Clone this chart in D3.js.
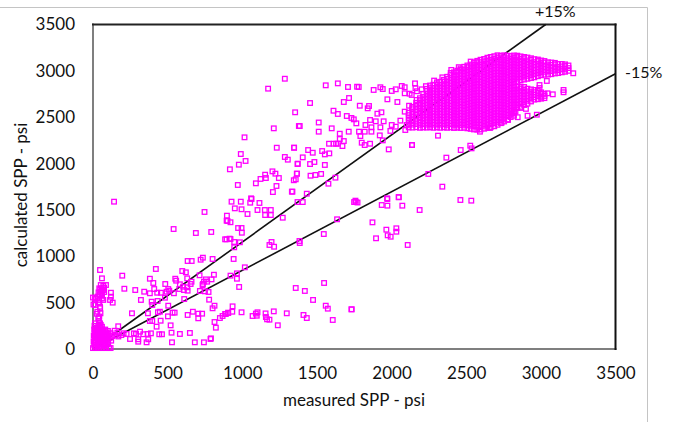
<!DOCTYPE html>
<html>
<head>
<meta charset="utf-8">
<script src="https://cdn.jsdelivr.net/npm/d3@7"></script>
<style>
	html, body { margin: 0; padding: 0; background: #fff; }
	svg { display: block; }
	text { font-family: Lato, sans-serif; fill: #111; }
</style>
</head>
<body>
<svg id="chart" width="684" height="422"></svg>
<script>
const xTickValues = [0, 500, 1000, 1500, 2000, 2500, 3000, 3500];
const yTickValues = [0, 500, 1000, 1500, 2000, 2500, 3000, 3500];
const upperLine = [[0, 0], [3032, 3500]];
const lowerLine = [[0, 0], [3500, 2969]];

// blob and column next to the origin
const originPoints = [
	[0, 10], [20, 10], [40, 10], [62, 10], [85, 10], [108, 10], [118, 10], [8, 45], [30, 40], [52, 48], [75, 42], [98, 50],
	[4, 80], [18, 72], [38, 85], [58, 78], [80, 82], [102, 75], [122, 90], [10, 110], [26, 118], [46, 105], [66, 115], [88, 108], [112, 120],
	[5, 145], [20, 150], [36, 140], [55, 152], [74, 144], [95, 150], [128, 140], [12, 178], [30, 182], [48, 175], [68, 185], [90, 178], [118, 170],
	[8, 210], [24, 215], [42, 205], [60, 212], [82, 210], [145, 197], [150, 150], [163, 176], [170, 135], [190, 150], [205, 170],
	[14, 28], [34, 62], [46, 32], [66, 64], [88, 30], [14, 95], [30, 100], [52, 95], [72, 100], [92, 88], [16, 130], [40, 125], [60, 132], [82, 128], [104, 135],
	[14, 162], [40, 160], [60, 168], [82, 160], [104, 165], [18, 195], [36, 198], [54, 192], [72, 200], [100, 195], [30, 235], [60, 240], [10, 250],
	[47, 223], [52, 260], [13, 277], [47, 277], [35, 331], [42, 350], [50, 385], [29, 402], [47, 456], [13, 475], [42, 500],
	[13, 550], [42, 529], [69, 529], [30, 565], [58, 575], [37, 610], [54, 620], [75, 615], [42, 654], [67, 636], [52, 690], [69, 680], [87, 690],
	[120, 607], [120, 564], [114, 529], [132, 500], [47, 852], [60, 762], [196, 791], [210, 650], [283, 636], [343, 618], [321, 529], [141, 1589], [18, 540], [0, 555], [3, 480],
	[46, 590], [60, 600], [48, 640], [58, 655], [74, 660], [40, 300], [48, 440], [38, 500], [60, 545], [24, 380]
];

const lowPoints = [
	[169, 245], [225, 162], [274, 169], [288, 162], [315, 187], [337, 159], [366, 162], [388, 169], [444, 159], [462, 159], [303, 105], [370, 105], [303, 79], [359, 72], [529, 72], [682, 72], [743, 72], [787, 108], [248, 108],
	[526, 176], [582, 162], [649, 173], [520, 255], [426, 241], [823, 230], [790, 115], [261, 385], [368, 385], [435, 396], [448, 402], [502, 352], [533, 392], [547, 392], [634, 367], [669, 402], [705, 381], [731, 381], [705, 331],
	[381, 302], [397, 302], [453, 305], [814, 291], [850, 334], [868, 356], [885, 378], [905, 392], [778, 532], [801, 439], [814, 467], [421, 863], [634, 949], [661, 949], [721, 963], [736, 985], [801, 971], [598, 841], [622, 827],
	[714, 795], [810, 801], [381, 758], [404, 712], [484, 701], [551, 758], [557, 737], [582, 698], [631, 762], [660, 726], [654, 701], [631, 665], [604, 672], [609, 636], [578, 647], [504, 647], [493, 618], [410, 647], [381, 601],
	[430, 607], [455, 607], [511, 629], [542, 601], [634, 629], [734, 690], [756, 751], [765, 726], [743, 726], [794, 751], [736, 701], [716, 626], [750, 622], [774, 615], [611, 539], [482, 553], [433, 518], [393, 510], [397, 475], [504, 467],
	[540, 1294], [689, 1251], [792, 1262], [747, 1478], [897, 1438], [895, 1384], [885, 1183], [915, 1190]
];

const midPoints = [
	[928, 1589], [990, 1589], [1062, 1618], [1053, 1578], [1115, 1575], [1370, 1585], [1405, 1585], [950, 1517], [995, 1507], [1102, 1499], [1151, 1499], [1191, 1499], [1035, 1456], [1153, 1445], [1191, 1445], [1271, 1416], [1749, 1585], [1635, 1399],
	[901, 1381], [921, 1367], [972, 1305], [995, 1305], [997, 1254], [1546, 1240], [895, 1183], [921, 1186], [946, 1154], [984, 1151], [946, 1097], [1196, 1154], [1182, 1122], [1213, 1103], [1383, 1165], [1385, 1143], [942, 971], [1017, 881],
	[964, 816], [921, 791], [964, 758], [979, 669], [1548, 712], [1358, 658], [1419, 626], [1474, 529], [1559, 467], [1573, 435], [1731, 428], [1733, 428], [1606, 313], [935, 460], [906, 388], [933, 402], [995, 396], [1069, 356], [1097, 359], [1102, 396], [1091, 382],
	[1156, 384], [1158, 345], [1166, 320], [1182, 316], [1211, 406], [1298, 385], [1238, 256], [1410, 367], [1432, 334], [890, 378], [1872, 1366], [1965, 1287], [2032, 1302], [2032, 1265], [1896, 1194], [1974, 1226], [1994, 1211], [2108, 1122],
	[1760, 1585], [1772, 1580], [1972, 1618], [2048, 1636], [1934, 1553], [1972, 1546], [2072, 1546], [2461, 1607], [2534, 1600], [2188, 1499], [2340, 1751], [2246, 1888], [2367, 2064], [2137, 2200], [1981, 2153], [2463, 2146], [2527, 2193], [2536, 2164], [2311, 2301]
];

const upperPoints = [
	[1285, 2915], [1173, 2808], [1354, 2553], [1379, 2405], [1211, 2380], [1015, 2283], [1231, 2171], [1347, 2171], [990, 2103], [1285, 2071], [1305, 2042], [1022, 2028], [977, 1988], [1370, 1995], [917, 1938], [1202, 1916], [1153, 1880], [1222, 1891],
	[1245, 1844], [1122, 1834], [1158, 1844], [1091, 1787], [1365, 1891], [1358, 1830], [1345, 1820], [1229, 1758], [970, 1769], [1205, 1693], [1332, 1697], [1059, 1625], [1559, 2844], [1640, 2865], [1708, 2826], [1769, 2829], [1780, 2826], [1880, 2794],
	[1925, 2823], [1941, 2804], [2001, 2783], [2028, 2801], [2068, 2837], [2088, 2823], [2088, 2758], [2157, 2865], [2160, 2812], [2121, 2754], [2202, 2801], [1715, 2707], [1680, 2664], [1454, 2653], [1972, 2693], [2039, 2664], [1787, 2624], [1849, 2621],
	[1840, 2596], [1611, 2570], [1640, 2535], [1932, 2553], [1905, 2538], [2088, 2560], [2117, 2624], [2139, 2607], [2135, 2740], [2168, 2686], [2190, 2596], [2257, 2613], [1700, 2513], [1731, 2492], [1747, 2477], [1764, 2434], [1512, 2443], [1385, 2405],
	[1599, 2380], [1512, 2344], [1713, 2344], [1856, 2470], [1894, 2456], [1947, 2456], [1825, 2416], [1865, 2391], [1925, 2391], [1820, 2344], [1782, 2344], [1865, 2344], [1653, 2322], [1791, 2297], [1921, 2304], [1992, 2352], [2028, 2398], [2059, 2463], [2092, 2362],
	[2001, 2416], [2101, 2416], [1653, 2265], [1680, 2243], [1581, 2214], [1612, 2214], [1628, 2214], [1640, 2214], [1671, 2189], [1800, 2225], [1820, 2200], [1856, 2214], [1941, 2250], [2137, 2200], [1347, 2171], [1441, 2146], [1472, 2117], [1535, 2135], [1553, 2099],
	[1583, 2110], [1405, 2067], [1372, 1999], [1454, 1995], [1483, 2017], [1553, 1985], [1367, 1891], [1457, 1869], [1490, 1877], [1528, 1888], [1624, 1848], [1577, 1783], [1336, 1697], [1432, 1675], [1758, 1600], [1970, 1625], [2048, 1639]
];

const clusterEdgePoints = [
	[2991, 2847], [2991, 2815], [3040, 2891], [3045, 2758], [3080, 2747], [3152, 2794], [3152, 2769], [2911, 2516], [2973, 2527], [2592, 2344], [2659, 2384], [2737, 2441], [3217, 2974],
	[2830, 2560], [2865, 2600], [2900, 2590], [2845, 2500], [2780, 2470], [2810, 2540], [2170, 2780], [2230, 2835], [2285, 2895], [2340, 2930], [2400, 3010], [2450, 3040], [2530, 3100]
];

// dense cloud, one list of calculated values per measured column
const denseMeasured = [
	2115, 2140, 2165, 2190, 2212, 2236, 2258, 2280, 2304, 2326,
	2350, 2372, 2396, 2418, 2440, 2462, 2486, 2508, 2530, 2552,
	2574, 2596, 2620, 2642, 2664, 2688, 2710, 2732, 2754, 2776,
	2798, 2820, 2842, 2864, 2888, 2910, 2934, 2956, 2980, 3002,
	3024, 3048, 3070, 3094, 3116, 3140, 3162, 3185
];
const denseCalculated = [
	[2390, 2424, 2458, 2490, 2522, 2548],
	[2388, 2420, 2455, 2486, 2520, 2552, 2586, 2612],
	[2392, 2426, 2460, 2494, 2526, 2558, 2590, 2624, 2656],
	[2386, 2418, 2452, 2488, 2520, 2554, 2586, 2618, 2650, 2684, 2705],
	[2390, 2425, 2458, 2490, 2524, 2556, 2590, 2622, 2655, 2688, 2720, 2752],
	[2388, 2420, 2454, 2486, 2520, 2552, 2584, 2618, 2650, 2684, 2716, 2750, 2782, 2806],
	[2392, 2424, 2458, 2492, 2524, 2558, 2590, 2624, 2656, 2690, 2722, 2756, 2788, 2820, 2842],
	[2386, 2420, 2452, 2486, 2518, 2552, 2586, 2618, 2652, 2684, 2718, 2750, 2784, 2816, 2850],
	[2390, 2422, 2456, 2490, 2522, 2556, 2588, 2622, 2654, 2688, 2720, 2754, 2786, 2820, 2852, 2876],
	[2386, 2420, 2454, 2486, 2520, 2552, 2586, 2618, 2652, 2684, 2718, 2750, 2784, 2816, 2850, 2882],
	[2390, 2424, 2456, 2490, 2522, 2556, 2590, 2622, 2656, 2688, 2722, 2754, 2788, 2820, 2854, 2886, 2904],
	[2386, 2418, 2452, 2486, 2518, 2552, 2584, 2618, 2650, 2684, 2716, 2750, 2782, 2816, 2848, 2882, 2914, 2936],
	[2390, 2424, 2458, 2490, 2524, 2556, 2590, 2622, 2656, 2688, 2722, 2754, 2788, 2820, 2854, 2886, 2920, 2952, 2978],
	[2384, 2418, 2450, 2484, 2516, 2550, 2582, 2616, 2648, 2682, 2714, 2748, 2780, 2814, 2846, 2880, 2912, 2946, 2984],
	[2388, 2422, 2454, 2488, 2520, 2554, 2586, 2620, 2652, 2686, 2718, 2752, 2784, 2818, 2850, 2884, 2916, 2950, 2982, 3002],
	[2384, 2416, 2450, 2482, 2516, 2548, 2582, 2614, 2648, 2680, 2714, 2746, 2780, 2812, 2846, 2878, 2912, 2944, 2978, 3010, 3026],
	[2386, 2420, 2452, 2486, 2518, 2552, 2584, 2618, 2650, 2684, 2716, 2750, 2782, 2816, 2848, 2882, 2914, 2948, 2980, 3014, 3044],
	[2380, 2414, 2446, 2480, 2512, 2546, 2578, 2612, 2644, 2678, 2710, 2744, 2776, 2810, 2842, 2876, 2908, 2942, 2974, 3008, 3040, 3058],
	[2374, 2408, 2442, 2474, 2508, 2540, 2574, 2606, 2640, 2672, 2706, 2738, 2772, 2804, 2838, 2870, 2904, 2936, 2970, 3002, 3036, 3068],
	[2368, 2402, 2436, 2470, 2502, 2536, 2568, 2602, 2634, 2668, 2700, 2734, 2766, 2800, 2832, 2866, 2898, 2932, 2964, 2998, 3030, 3064, 3090],
	[2366, 2400, 2434, 2466, 2500, 2532, 2566, 2598, 2632, 2664, 2698, 2730, 2764, 2796, 2830, 2862, 2896, 2928, 2962, 2994, 3028, 3060, 3094, 3108],
	[2368, 2402, 2434, 2468, 2500, 2534, 2566, 2600, 2632, 2666, 2698, 2732, 2764, 2798, 2830, 2864, 2896, 2930, 2962, 2996, 3028, 3062, 3094, 3120],
	[2376, 2408, 2442, 2474, 2508, 2540, 2574, 2606, 2640, 2672, 2706, 2738, 2772, 2804, 2838, 2870, 2904, 2936, 2970, 3002, 3036, 3068, 3102, 3128],
	[2384, 2416, 2450, 2482, 2516, 2548, 2582, 2614, 2648, 2680, 2714, 2746, 2780, 2812, 2846, 2878, 2912, 2944, 2978, 3010, 3044, 3076, 3110, 3142],
	[2392, 2426, 2458, 2492, 2524, 2558, 2590, 2624, 2656, 2690, 2722, 2756, 2788, 2822, 2854, 2888, 2920, 2954, 2986, 3020, 3052, 3086, 3118, 3150],
	[2402, 2436, 2468, 2502, 2534, 2568, 2600, 2634, 2666, 2700, 2732, 2766, 2798, 2832, 2864, 2898, 2930, 2964, 2996, 3030, 3062, 3096, 3128, 3158],
	[2418, 2450, 2484, 2516, 2550, 2582, 2616, 2648, 2682, 2714, 2748, 2780, 2814, 2846, 2880, 2912, 2946, 2978, 3012, 3044, 3078, 3110, 3144, 3168],
	[2436, 2470, 2502, 2536, 2568, 2602, 2634, 2668, 2700, 2734, 2766, 2800, 2832, 2866, 2898, 2932, 2964, 2998, 3030, 3064, 3096, 3130, 3162],
	[2454, 2486, 2520, 2552, 2586, 2618, 2652, 2684, 2718, 2750, 2784, 2816, 2850, 2882, 2916, 2948, 2982, 3014, 3048, 3080, 3114, 3146, 3168],
	[2476, 2510, 2542, 2576, 2608, 2642, 2674, 2708, 2740, 2774, 2806, 2840, 2872, 2906, 2938, 2972, 3004, 3038, 3070, 3104, 3136, 3164],
	[2502, 2536, 2568, 2602, 2634, 2668, 2700, 2734, 2766, 2800, 2832, 2866, 2898, 2932, 2964, 2998, 3030, 3064, 3096, 3130, 3160],
	[2516, 2550, 2582, 2616, 2648, 2682, 2714, 2748, 2780, 2814, 2846, 2880, 2912, 2946, 2978, 3012, 3044, 3078, 3110, 3144, 3166],
	[2600, 2632, 2666, 2698, 2732, 2764, 2798, 2830, 2884, 2916, 2950, 2982, 3016, 3048, 3082, 3114, 3148, 3164],
	[2612, 2646, 2678, 2712, 2744, 2778, 2810, 2830, 2898, 2930, 2964, 2996, 3030, 3062, 3096, 3128, 3156],
	[2632, 2664, 2698, 2730, 2764, 2796, 2826, 2906, 2938, 2972, 3004, 3038, 3070, 3104, 3136, 3150],
	[2646, 2678, 2712, 2744, 2778, 2808, 2914, 2946, 2980, 3012, 3046, 3078, 3112, 3144],
	[2670, 2704, 2736, 2770, 2800, 2922, 2954, 2988, 3020, 3054, 3086, 3120, 3136],
	[2690, 2716, 2742, 2770, 2794, 2930, 2962, 2996, 3028, 3062, 3094, 3126],
	[2694, 2728, 2760, 2786, 2942, 2974, 3008, 3040, 3074, 3106, 3122],
	[2700, 2720, 2752, 2768, 2952, 2984, 3018, 3050, 3084, 3112],
	[2706, 2730, 2752, 2958, 2990, 3024, 3056, 3090, 3106],
	[2960, 2994, 3028, 3060, 3092],
	[2964, 2998, 3032, 3064, 3090],
	[2972, 3004, 3038, 3070, 3086],
	[2976, 3008, 3042, 3074],
	[2984, 3016, 3048, 3074],
	[2990, 3022, 3052, 3070],
	[3000, 3030, 3058]
];

const width = 684;
const height = 422;
const svg = d3.select('#chart');
const xScale = d3.scaleLinear().domain([0, 3500]).range([93, 615.5]);
const yScale = d3.scaleLinear().domain([0, 3500]).range([349, 24.5]);

// picture edge of the pasted slide
svg.append('path')
	.attr('d', 'M0,7.5H647.5V' + height)
	.attr('fill', 'none')
	.attr('stroke', '#c4c4c4')
	.attr('stroke-width', 1);

// frame
const frameSides = [
	{ a: [0, 0], b: [0, 3500], color: '#7f7f7f' },
	{ a: [0, 0], b: [3500, 0], color: '#7f7f7f' },
	{ a: [0, 3500], b: [3500, 3500], color: '#222' },
	{ a: [3500, 0], b: [3500, 3500], color: '#111' }
];
svg.selectAll('line.frame')
	.data(frameSides)
	.enter()
	.append('line')
	.attr('class', 'frame')
	.attr('x1', d => xScale(d.a[0]))
	.attr('y1', d => yScale(d.a[1]))
	.attr('x2', d => xScale(d.b[0]))
	.attr('y2', d => yScale(d.b[1]))
	.attr('stroke', d => d.color)
	.attr('stroke-width', 2)
	.attr('stroke-linecap', 'square');

// +15 and -15 lines sit under the markers
const lineMaker = d3.line().x(d => xScale(d[0])).y(d => yScale(d[1]));
svg.selectAll('path.band')
	.data([upperLine, lowerLine])
	.enter()
	.append('path')
	.attr('class', 'band')
	.attr('d', lineMaker)
	.attr('fill', 'none')
	.attr('stroke', '#111')
	.attr('stroke-width', 1.6);

let densePoints = [];
for (let i = 0; i < denseMeasured.length; i++)
	for (let j = 0; j < denseCalculated[i].length; j++)
		densePoints.push([denseMeasured[i], denseCalculated[i][j]]);

const allPoints = originPoints.concat(lowPoints, midPoints, upperPoints, clusterEdgePoints, densePoints);
const markerSize = 4.6;
svg.selectAll('rect.point')
	.data(allPoints)
	.enter()
	.append('rect')
	.attr('class', 'point')
	.attr('x', d => xScale(d[0]) - markerSize / 2)
	.attr('y', d => yScale(d[1]) - markerSize / 2)
	.attr('width', markerSize)
	.attr('height', markerSize)
	.attr('fill', 'none')
	.attr('stroke', '#ff00ff')
	.attr('stroke-opacity', 1)
	.attr('stroke-width', 1.3);

// axes
const xAxis = d3.axisBottom(xScale).tickValues(xTickValues).tickSize(0).tickPadding(0).tickFormat(d3.format('d'));
const yAxis = d3.axisLeft(yScale).tickValues(yTickValues).tickSize(0).tickPadding(0).tickFormat(d3.format('d'));

const xAxisGroup = svg.append('g').attr('transform', 'translate(0,367)').call(xAxis);
const yAxisGroup = svg.append('g').attr('transform', 'translate(75,0)').call(yAxis);
xAxisGroup.select('.domain').remove();
yAxisGroup.select('.domain').remove();
svg.selectAll('.tick text')
	.style('font-family', 'Lato, sans-serif')
	.style('font-size', '17px')
	.style('fill', '#111');

svg.append('text')
	.attr('x', 354)
	.attr('y', 406)
	.attr('text-anchor', 'middle')
	.style('font-size', '17px')
	.text('measured SPP - psi');

svg.append('text')
	.attr('transform', 'translate(27,195) rotate(-90)')
	.attr('text-anchor', 'middle')
	.style('font-size', '17px')
	.text('calculated SPP - psi');

svg.append('text')
	.attr('x', 535)
	.attr('y', 17)
	.style('font-size', '16px')
	.text('+15%');

svg.append('text')
	.attr('x', 625)
	.attr('y', 78)
	.style('font-size', '16px')
	.text('-15%');
</script>
</body>
</html>
